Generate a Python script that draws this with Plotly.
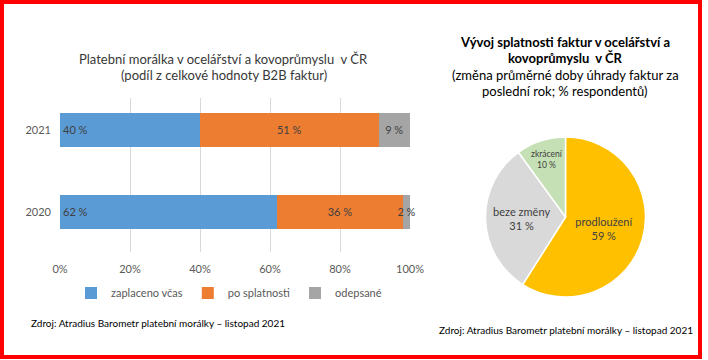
import plotly.graph_objects as go

# ---- data ----
years = ["2020", "2021"]
zaplaceno = [62, 40]
po_splatnosti = [36, 51]
odepsane = [2, 9]
bar_series_names = ["zaplaceno včas", "po splatnosti", "odepsané"]
x_ticks = [0, 20, 40, 60, 80, 100]

pie_labels = ["prodloužení", "beze změny", "zkrácení"]
pie_values = [59, 31, 10]

W, H = 708, 360
FONT = "Lato, Calibri, Liberation Sans, sans-serif"
TXT = "#404040"


def px(x):
    return x / W


def py(y):
    return 1 - y / H


fig = go.Figure()

colors = ["#5B9BD5", "#ED7D31", "#A5A5A5"]
series = [zaplaceno, po_splatnosti, odepsane]
for i, (name, vals, col) in enumerate(zip(bar_series_names, series, colors)):
    fig.add_trace(go.Bar(
        y=years, x=vals, name=name, orientation="h",
        marker=dict(color=col, line=dict(width=0)),
        width=0.415,
        text=[f"{v} %" for v in vals],
        textposition="inside",
        textangle=0,
        insidetextanchor="start" if i == 0 else "middle",
        textfont=dict(family=FONT, size=11, color=TXT),
        insidetextfont=dict(family=FONT, size=11, color=TXT),
        constraintext="none",
        cliponaxis=False,
        xaxis="x", yaxis="y",
    ))

fig.add_trace(go.Pie(
    labels=pie_labels, values=pie_values,
    sort=False, direction="clockwise", rotation=0,
    marker=dict(colors=["#FFC000", "#D9D9D9", "#C5E0B4"], line=dict(color="white", width=1.5)),
    texttemplate="%{label}<br>%{value} %",
    textposition="inside",
    insidetextorientation="horizontal",
    textfont=dict(family=FONT, size=11, color=TXT),
    showlegend=False,
    hoverinfo="label+value",
    domain=dict(x=[px(485.5), px(645.5)], y=[py(297), py(137)]),
))

annotations = [
    dict(text="Platební morálka v ocelářství a kovoprůmyslu  v ČR", x=px(223), y=py(59),
         font=dict(family=FONT, size=13, color="#383838")),
    dict(text="(podíl z celkové hodnoty B2B faktur)", x=px(224), y=py(75),
         font=dict(family=FONT, size=13, color="#383838")),
    dict(text="<b>Vývoj splatnosti faktur v ocelářství a</b>", x=px(565), y=py(42),
         font=dict(family=FONT, size=13, color="#000000")),
    dict(text="<b>kovoprůmyslu  v ČR</b>", x=px(565), y=py(58),
         font=dict(family=FONT, size=13, color="#000000")),
    dict(text="(změna průměrné doby úhrady faktur za", x=px(565), y=py(75),
         font=dict(family=FONT, size=13, color="#000000")),
    dict(text="poslední rok; % respondentů)", x=px(565), y=py(91),
         font=dict(family=FONT, size=13, color="#000000")),
    dict(text="Zdroj: Atradius Barometr platební morálky – listopad 2021", x=px(29), y=py(323),
         xanchor="left", font=dict(family=FONT, size=10, color="#000000")),
    dict(text="Zdroj: Atradius Barometr platební morálky – listopad 2021", x=px(437), y=py(330),
         xanchor="left", font=dict(family=FONT, size=10, color="#000000")),
]
for a in annotations:
    a.update(xref="paper", yref="paper", showarrow=False, yanchor="middle")
    a.setdefault("xanchor", "center")

fig.update_layout(
    width=W, height=H,
    margin=dict(l=0, r=0, t=0, b=0, autoexpand=False),
    paper_bgcolor="white", plot_bgcolor="white",
    barmode="stack",
    bargap=0.5,
    font=dict(family=FONT, color="#595959"),
    xaxis=dict(
        domain=[px(60), px(410)], range=[0, 100],
        tickvals=x_ticks, ticktext=[f"{v}%" for v in x_ticks],
        showgrid=True, gridcolor="#D9D9D9", gridwidth=1,
        zeroline=False, showline=False, ticks="",
        tickfont=dict(family=FONT, size=11, color="#595959"),
        ticklabelstandoff=9, automargin=False,
        fixedrange=True,
    ),
    yaxis=dict(
        domain=[py(252), py(98)], range=[-0.488, 1.39],
        type="category",
        showgrid=False, zeroline=False, showline=False, ticks="",
        tickfont=dict(family=FONT, size=11, color="#595959"),
        ticklabelstandoff=8, automargin=False,
        fixedrange=True,
    ),
    legend=dict(
        orientation="h", x=px(229), y=py(293), xanchor="center", yanchor="middle",
        font=dict(family=FONT, size=11, color="#595959"),
        itemwidth=30, traceorder="normal",
        bgcolor="rgba(0,0,0,0)",
    ),
    annotations=annotations,
    shapes=[dict(type="rect", xref="paper", yref="paper",
                 x0=px(2), x1=px(700), y0=py(357), y1=py(2),
                 line=dict(color="#FF0000", width=4), layer="above")],
)

fig.write_html("out.html", config={"displayModeBar": False},
               post_script="document.body.style.margin='0';document.body.style.overflow='hidden';")
